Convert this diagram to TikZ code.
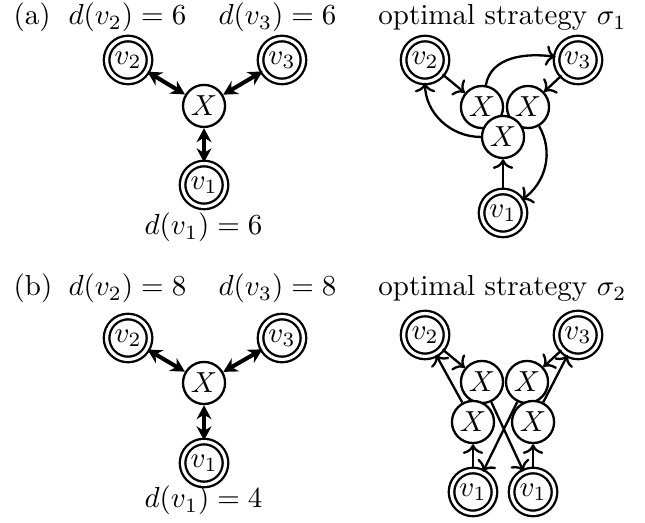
\documentclass[tikz,border=0pt]{standalone}
\usetikzlibrary{arrows.meta}

\begin{document}
\begin{tikzpicture}[
  state/.style={circle,draw,thick,fill=white,minimum size=0.51cm,inner sep=0pt},
  target/.style={circle,draw,thick,double,double distance=1.1pt,fill=white,minimum size=0.52cm,inner sep=0pt},
  duo/.style={{Stealth[length=1.7mm,width=1.8mm]}-{Stealth[length=1.7mm,width=1.8mm]},line width=1.4pt},
  move/.style={->,thick},
  caption/.style={anchor=base,inner sep=0pt}
]
\useasboundingbox (0,0) rectangle (7.818,6.339);
% (a) game graph
\node[caption,anchor=base west] (la) at (0.158,6.036) {(a)};
\node[caption] (da2) at (1.545,6.036) {$d(v_2)=6$};
\node[caption] (da3) at (3.364,6.036) {$d(v_3)=6$};
\node[state] (ax) at (2.473,5.055) {$X$};
\node[target] (av2) at (1.552,5.612) {$v_2$};
\node[target] (av3) at (3.418,5.612) {$v_3$};
\node[target] (av1) at (2.473,4.097) {$v_1$};
\node[caption] (da1) at (2.467,3.491) {$d(v_1)=6$};
\draw[duo] (av2) -- (ax);
\draw[duo] (av3) -- (ax);
\draw[duo] (av1) -- (ax);
% (a) strategy
\node[caption] (sa) at (6.09,6.036) {optimal strategy $\sigma_1$};
\node[target] (sv2) at (5.152,5.612) {$v_2$};
\node[target] (sv3) at (7.006,5.612) {$v_3$};
\node[target] (sv1) at (6.097,3.758) {$v_1$};
\node[state] (sxl) at (5.842,5.042) {$X$};
\node[state] (sxr) at (6.400,5.042) {$X$};
\node[state] (sxb) at (6.097,4.679) {$X$};
\draw[move] (sv2) -- (sxl);
\draw[move] (sv3) -- (sxr);
\draw[move] (sv1) -- (sxb);
\draw[move] (sxb) to[out=180,in=-90] (sv2);
\draw[move] (sxl) to[out=80,in=172] (sv3);
\draw[move] (sxr) to[out=-60,in=35] (sv1);
% (b) game graph
\node[caption,anchor=base west] (lb) at (0.158,2.752) {(b)};
\node[caption] (db2) at (1.545,2.752) {$d(v_2)=8$};
\node[caption] (db3) at (3.364,2.752) {$d(v_3)=8$};
\node[state] (bx) at (2.473,1.697) {$X$};
\node[target] (bv2) at (1.552,2.242) {$v_2$};
\node[target] (bv3) at (3.418,2.242) {$v_3$};
\node[target] (bv1) at (2.473,0.727) {$v_1$};
\node[caption] (db1) at (2.467,0.182) {$d(v_1)=4$};
\draw[duo] (bv2) -- (bx);
\draw[duo] (bv3) -- (bx);
\draw[duo] (bv1) -- (bx);
% (b) strategy
\node[caption] (sb) at (6.09,2.752) {optimal strategy $\sigma_2$};
\node[target] (tv2) at (5.152,2.279) {$v_2$};
\node[target] (tv3) at (7.006,2.279) {$v_3$};
\node[target] (tv1l) at (5.733,0.376) {$v_1$};
\node[target] (tv1r) at (6.461,0.376) {$v_1$};
\node[state] (txtl) at (5.842,1.709) {$X$};
\node[state] (txtr) at (6.388,1.709) {$X$};
\node[state] (txbl) at (5.733,1.224) {$X$};
\node[state] (txbr) at (6.461,1.224) {$X$};
\draw[move] (tv2) -- (txtl);
\draw[move] (tv3) -- (txtr);
\draw[move] (txbl) -- (tv2);
\draw[move] (txbr) -- (tv3);
\draw[move] (tv1l) -- (txbl);
\draw[move] (tv1r) -- (txbr);
\draw[move] (txtl) -- (tv1r);
\draw[move] (txtr) -- (tv1l);
\end{tikzpicture}
\end{document}
